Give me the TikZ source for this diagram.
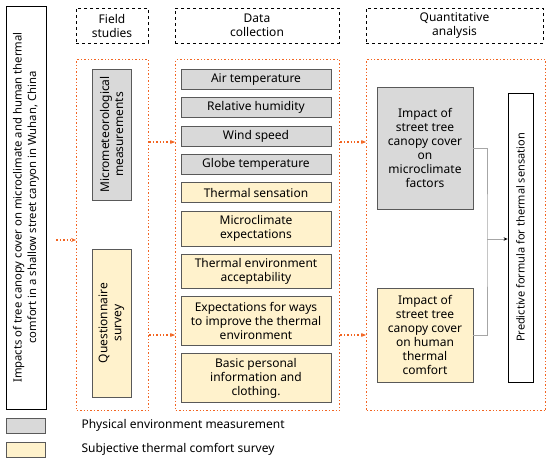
\documentclass[tikz,border=0pt]{standalone}
\usepackage{fontspec}
\setmainfont{Noto Sans}
\usepackage{xcolor}
\usepackage{tikz}
\usetikzlibrary{positioning,calc,arrows.meta}

\definecolor{measgray}{RGB}{217,217,217}
\definecolor{surveyyel}{RGB}{255,242,204}
\definecolor{edgegray}{RGB}{89,89,89}
\definecolor{flowor}{RGB}{242,101,34}
\definecolor{linkgray}{RGB}{166,166,166}

\begin{document}
\begin{tikzpicture}[x=1pt, y=-1pt, node distance=7.5pt,
        font=\fontsize{12}{14}\selectfont,
        block/.style={draw=edgegray, line width=0.8pt, rectangle, align=center, inner sep=2pt},
        meas/.style={block, fill=measgray},
        survey/.style={block, fill=surveyyel},
        dbox/.style={minimum width=150pt},
        head/.style={draw, dashed, line width=0.8pt, minimum height=35pt, align=center},
        frame/.style={draw=flowor, dotted, line width=1.4pt, anchor=north west},
        flow/.style={flowor, dotted, line width=1.4pt, -{Stealth[length=5pt,width=4pt]}},
        link/.style={draw=linkgray, line width=0.8pt},
        >=stealth
    ]
        \useasboundingbox (0,0) rectangle (550,464);

        % Title
        \node [block, draw=black, minimum width=40pt, minimum height=403pt] (title) at (26,207.5)
            {};
        \node [rotate=90, align=center, font=\fontsize{11.3}{14.5}\selectfont] at (title.center)
            {Impacts of tree canopy cover on microclimate and human thermal\\comfort in a shallow street canyon in Wuhan, China};

        % Headers
        \node [head, minimum width=72pt] (hfield) at (112,25.5) {Field\\studies};
        \node [head, minimum width=164pt] (hdata) at (257,25.5) {Data\\collection};
        \node [head, minimum width=177pt] (hquant) at (454.5,25.5) {Quantitative\\analysis};

        % Frames
        \node [frame, minimum width=72pt, minimum height=351pt] (ffield) at (76,59) {};
        \node [frame, minimum width=164pt, minimum height=351pt] (fdata) at (175,59) {};
        \node [frame, minimum width=179pt, minimum height=351pt] (fquant) at (366,59) {};

        % Field studies
        \node [meas, minimum width=131pt, minimum height=39pt, rotate=90] (micro) at (111.5,134.5)
            {Micrometeorological\\measurements};
        \node [survey, minimum width=148pt, minimum height=39pt, rotate=90] (quest) at (111.5,323)
            {Questionnaire\\survey};

        % Data collection
        \node [meas, dbox, minimum height=20pt, anchor=north] (air) at (256,69) {Air temperature};
        \node [meas, dbox, minimum height=20pt, below=of air] (rh) {Relative humidity};
        \node [meas, dbox, minimum height=20pt, below=of rh] (wind) {Wind speed};
        \node [meas, dbox, minimum height=20pt, below=of wind] (globe) {Globe temperature};
        \node [survey, dbox, minimum height=20pt, below=of globe] (tsens) {Thermal sensation};
        \node [survey, dbox, minimum height=35pt, below=of tsens] (mexp) {Microclimate\\expectations};
        \node [survey, dbox, minimum height=34pt, below=of mexp] (accept) {Thermal environment\\acceptability};
        \node [survey, dbox, minimum height=49pt, below=of accept] (ways)
            {Expectations for ways\\to improve the thermal\\environment};
        \node [survey, dbox, minimum height=49pt, below=of ways] (basic)
            {Basic personal\\information and\\clothing.};

        % Quantitative analysis
        \node [meas, minimum width=96pt, minimum height=122pt] (impmc) at (425,148)
            {Impact of\\street tree\\canopy cover\\on\\microclimate\\factors};
        \node [survey, minimum width=96pt, minimum height=94pt] (imphc) at (425,335)
            {Impact of\\street tree\\canopy cover\\on human\\thermal\\comfort};
        \node [block, draw=black, minimum width=25pt, minimum height=289pt] (predict) at (520.5,237.5) {};
        \node [rotate=90, font=\fontsize{11}{14}\selectfont\bfseries] at (predict.center)
            {Predictive formula for thermal sensation};

        \coordinate (join) at (487,239);
        \draw [link] (impmc.east) -| (join) |- (imphc.east);
        \draw [link, -{Stealth[length=4pt,width=3.5pt,black]}] (join) -- (predict.west |- join);

        % Flows
        \draw [flow, shorten <=10pt] (title.east |- 0,240) -- (ffield.west |- 0,240);
        \draw [flow] (ffield.east |- 0,142) -- (fdata.west |- 0,142);
        \draw [flow] (ffield.east |- 0,335) -- (fdata.west |- 0,335);
        \draw [flow] (fdata.east |- 0,142) -- (fquant.west |- 0,142);
        \draw [flow] (fdata.east |- 0,335) -- (fquant.west |- 0,335);

        % Legend
        \node [meas, minimum width=39pt, minimum height=15pt] (legphys) at (25.5,425.5) {};
        \node [survey, minimum width=39pt, minimum height=15pt] (legsubj) at (25.5,449.5) {};
        \node [anchor=west] (txtphys) at (78,425.5) {Physical environment measurement};
        \node [anchor=west] (txtsubj) at (78,449.5) {Subjective thermal comfort survey};
    \end{tikzpicture}
\end{document}
